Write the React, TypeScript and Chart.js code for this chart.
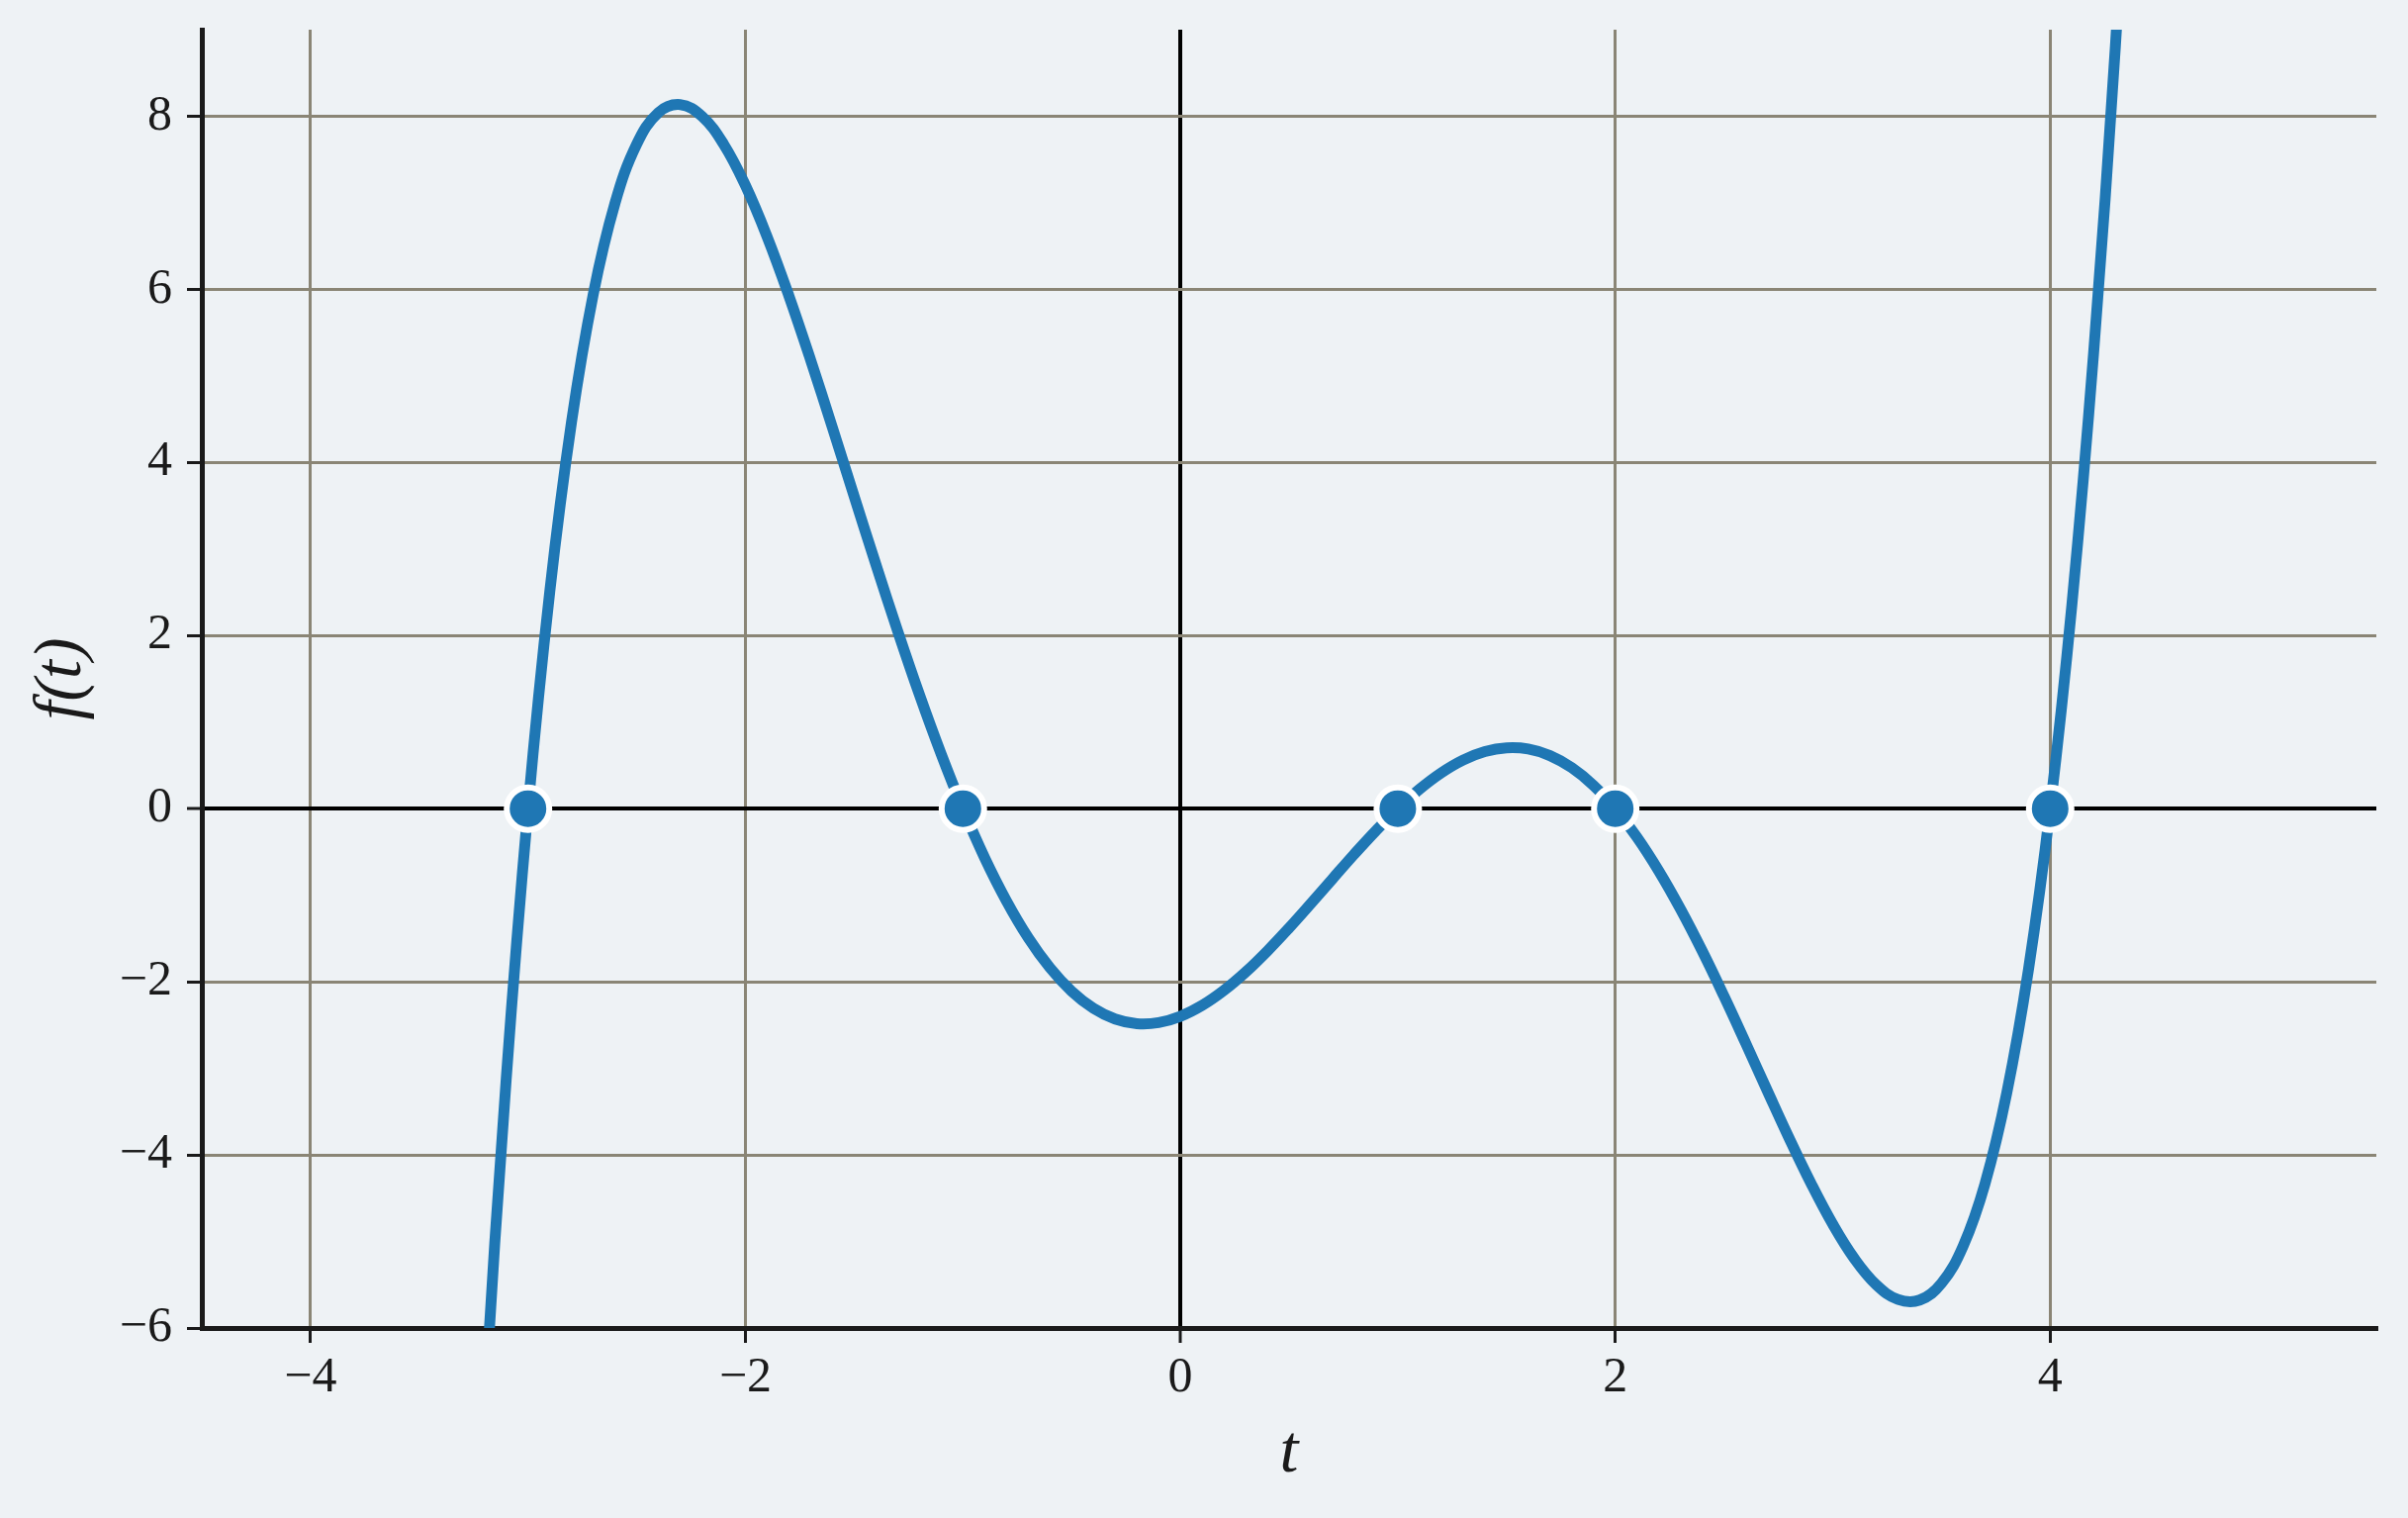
import { useRef, useEffect } from 'react';
import { Chart, registerables, type ChartOptions, type ChartData } from 'chart.js';

Chart.register(...registerables);

// samples of f(t)
const tValues = [
  -3.3, -3.2, -3.1, -3.0, -2.9, -2.8, -2.7, -2.6, -2.5, -2.4, -2.3, -2.2, -2.1, -2.0,
  -1.9, -1.8, -1.7, -1.6, -1.5, -1.4, -1.3, -1.2, -1.1, -1.0, -0.9, -0.8, -0.7, -0.6,
  -0.5, -0.4, -0.3, -0.2, -0.1, 0.0, 0.1, 0.2, 0.3, 0.4, 0.5, 0.6, 0.7, 0.8, 0.9, 1.0,
  1.1, 1.2, 1.3, 1.4, 1.5, 1.6, 1.7, 1.8, 1.9, 2.0, 2.1, 2.2, 2.3, 2.4, 2.5, 2.6, 2.7,
  2.8, 2.9, 3.0, 3.1, 3.2, 3.3, 3.4, 3.5, 3.6, 3.7, 3.8, 3.9, 4.0, 4.1, 4.2, 4.3, 4.4,
];
const fValues = [
  -11.479, -6.919, -3.118, 0, 2.505, 4.465, 5.942, 6.995, 7.678, 8.043, 8.135, 8.0, 7.676, 7.2,
  6.606, 5.924, 5.182, 4.403, 3.609, 2.82, 2.052, 1.318, 0.631, 0, -0.567, -1.064, -1.489, -1.837,
  -2.109, -2.306, -2.43, -2.484, -2.472, -2.4, -2.274, -2.101, -1.889, -1.645, -1.378, -1.097, -0.81, -0.525, -0.253, 0,
  0.225, 0.414, 0.561, 0.659, 0.703, 0.689, 0.613, 0.473, 0.269, 0, -0.33, -0.719, -1.16, -1.645, -2.166, -2.71, -3.263,
  -3.809, -4.328, -4.8, -5.2, -5.5, -5.67, -5.677, -5.484, -5.052, -4.336, -3.29, -1.863, 0, 2.357, 5.272, 8.81, 13.043,
];

// roots marked on the t axis
const rootT = [-3, -1, 1, 2, 4];
const rootF = [0, 0, 0, 0, 0];

const xTicks = [-4, -2, 0, 2, 4];
const yTicks = [-6, -4, -2, 0, 2, 4, 6, 8];

const BLUE = '#1f77b4';
const INK = '#1a1a1a';
const GRID = '#8a8575';
const BG = '#eef2f5';

const fmt = (v: number | string) => {
  const n = Number(v);
  return n < 0 ? '\u2212' + Math.abs(n) : String(n);
};

const App = () => {
  const canvasRef = useRef<HTMLCanvasElement | null>(null);
  const chartRef = useRef<Chart<'scatter'> | null>(null);

  useEffect(() => {
    if (!canvasRef.current) return;

    const data: ChartData<'scatter'> = {
      datasets: [
        {
          data: rootT.map((t, i) => ({ x: t, y: rootF[i] })),
          showLine: false,
          pointRadius: 21.5,
          pointHoverRadius: 21.5,
          pointBackgroundColor: BLUE,
          pointBorderColor: '#ffffff',
          pointBorderWidth: 6,
          clip: false,
          order: 0,
        },
        {
          data: tValues.map((t, i) => ({ x: t, y: fValues[i] })),
          showLine: true,
          borderColor: BLUE,
          borderWidth: 11,
          pointRadius: 0,
          tension: 0.4,
          clip: 0,
          order: 1,
        },
      ],
    };

    const tickFont = { family: "'Liberation Serif', 'DejaVu Serif', serif", size: 50 };
    const titleFont = { family: "'Liberation Serif', 'DejaVu Serif', serif", size: 68, style: 'italic' as const };

    const gridColor = (c: any) => (c.tick && c.tick.value === 0 ? '#000000' : GRID);
    const gridWidth = (c: any) => (c.tick && c.tick.value === 0 ? 4 : 3);

    const options: ChartOptions<'scatter'> = {
      animation: false,
      responsive: false,
      devicePixelRatio: 1,
      layout: { padding: { top: 30, right: 32, left: 0, bottom: 0 } },
      plugins: { legend: { display: false }, tooltip: { enabled: false } },
      scales: {
        x: {
          type: 'linear',
          min: -4.5,
          max: 5.5,
          afterBuildTicks: (s) => { s.ticks = xTicks.map((v) => ({ value: v })); },
          afterFit: (s) => { s.height = 192; s.paddingLeft = 0; s.paddingRight = 0; },
          grid: { color: gridColor, lineWidth: gridWidth, tickColor: INK, tickLength: 15, tickWidth: 3 },
          border: { display: true, color: INK, width: 5 },
          ticks: { color: INK, font: tickFont, padding: 6, maxRotation: 0, callback: fmt },
          title: { display: true, text: 't', color: INK, font: titleFont, padding: { top: 0, bottom: 24 } },
        },
        y: {
          type: 'linear',
          min: -6,
          max: 9,
          afterBuildTicks: (s) => { s.ticks = yTicks.map((v) => ({ value: v })); },
          afterFit: (s) => { s.width = 204; s.paddingTop = 0; s.paddingBottom = 0; },
          grid: { color: gridColor, lineWidth: gridWidth, tickColor: INK, tickLength: 15, tickWidth: 3 },
          border: { display: true, color: INK, width: 5 },
          ticks: { color: INK, font: tickFont, padding: 15, callback: fmt },
          title: { display: true, text: 'f(t)', color: INK, font: titleFont, padding: { top: 22, bottom: 0 } },
        },
      },
    };

    chartRef.current?.destroy();
    chartRef.current = new Chart(canvasRef.current, { type: 'scatter', data, options });

    return () => {
      chartRef.current?.destroy();
      chartRef.current = null;
    };
  }, []);

  return (
    <div style={{ position: 'fixed', left: 0, top: 0, width: 2434, height: 1534, background: BG }}>
      <canvas ref={canvasRef} width={2434} height={1534} style={{ display: 'block', width: 2434, height: 1534 }} />
    </div>
  );
};

export default App;
